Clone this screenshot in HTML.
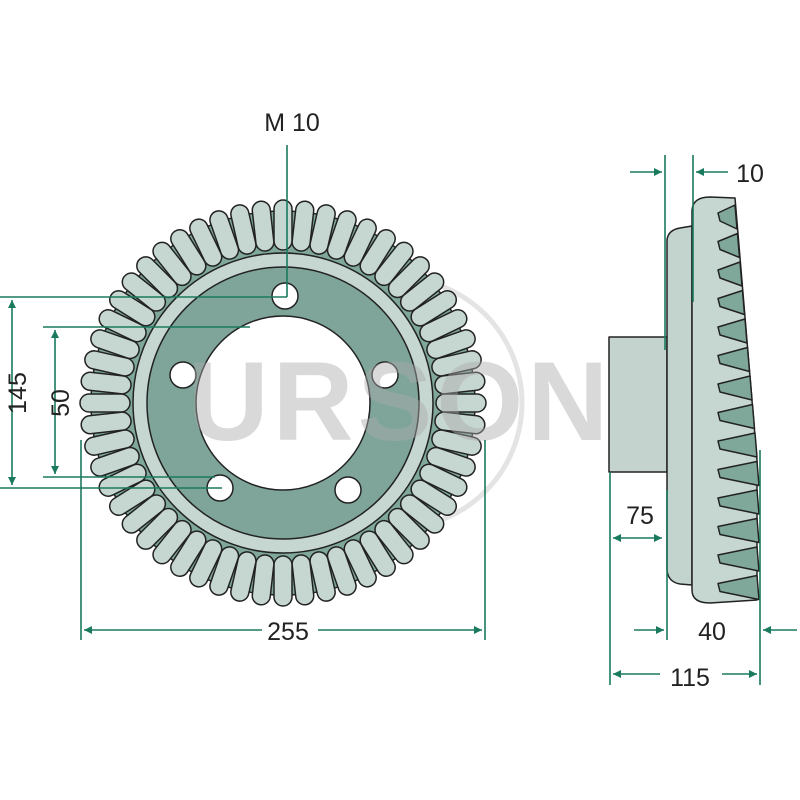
<!DOCTYPE html>
<html><head><meta charset="utf-8"><style>
html,body{margin:0;padding:0;background:#fff;width:800px;height:800px;overflow:hidden}
svg{display:block}
text{font-family:"Liberation Sans",sans-serif;fill:#222}
</style></head><body>
<svg id="s" width="800" height="800" viewBox="0 0 800 800" xmlns="http://www.w3.org/2000/svg">
<defs>
<marker id="a" viewBox="0 0 10 10" refX="10" refY="5" markerWidth="7" markerHeight="5" orient="auto-start-reverse"><path d="M0,0 L10,5 L0,10 z" fill="#1a7a5e"/></marker>
</defs>
<circle cx="397" cy="403" r="125" fill="none" stroke="#e4e4e4" stroke-width="5"/>
<g id="gear"></g>
<text x="400" y="440" font-size="112" font-weight="bold" text-anchor="middle" style="fill:#aaa;fill-opacity:0.45" letter-spacing="4">URSON</text>

<g stroke="#222" stroke-width="1.5" stroke-linejoin="round">
<rect x="609" y="337" width="58" height="135" fill="#c5d3cf"/>
<path d="M667,240 Q668,230 680,228 L692,226 L692,585 L680,584 Q668,582 667,570 Z" fill="#c3d3ce"/>
<path d="M692,210 Q693,197 710,197 L735,198 L757,460 L757,600 L710,603 Q692,603 692,590 Z" fill="#c6d6d1"/>
<path id="teeth" fill="#7fa89b" d=""/>
</g>

<g stroke="#1a7a5e" stroke-width="1.6" fill="none">
<line x1="287" y1="145" x2="287" y2="297"/>
<line x1="0" y1="297" x2="287" y2="297"/>
<line x1="0" y1="488" x2="222" y2="488"/>
<line x1="43" y1="327" x2="250" y2="327"/>
<line x1="43" y1="477" x2="215" y2="477"/>
<line x1="12" y1="300" x2="12" y2="485" marker-start="url(#a)" marker-end="url(#a)"/>
<line x1="55" y1="330" x2="55" y2="474" marker-start="url(#a)" marker-end="url(#a)"/>
<line x1="81" y1="440" x2="81" y2="640"/>
<line x1="485" y1="440" x2="485" y2="640"/>
<line x1="84" y1="630" x2="262" y2="630" marker-start="url(#a)"/>
<line x1="318" y1="630" x2="482" y2="630" marker-end="url(#a)"/>
<line x1="665" y1="155" x2="665" y2="350"/>
<line x1="693" y1="155" x2="693" y2="302"/>
<line x1="630" y1="172" x2="662" y2="172" marker-end="url(#a)"/>
<line x1="728" y1="172" x2="696" y2="172" marker-end="url(#a)"/>
<line x1="610" y1="472" x2="610" y2="685"/>
<line x1="667" y1="490" x2="667" y2="640"/>
<line x1="760" y1="450" x2="760" y2="685"/>
<line x1="613" y1="538" x2="662" y2="538" marker-start="url(#a)" marker-end="url(#a)"/>
<line x1="634" y1="630" x2="664" y2="630" marker-end="url(#a)"/>
<line x1="797" y1="630" x2="763" y2="630" marker-end="url(#a)"/>
<line x1="613" y1="674" x2="660" y2="674" marker-start="url(#a)"/>
<line x1="722" y1="674" x2="757" y2="674" marker-end="url(#a)"/>
</g>
<g font-size="25">
<text x="292" y="131" text-anchor="middle">M 10</text>
<text x="288" y="640" text-anchor="middle">255</text>
<text x="640" y="524" text-anchor="middle">75</text>
<text x="712" y="640" text-anchor="middle">40</text>
<text x="690" y="686" text-anchor="middle">115</text>
<text x="750" y="182" text-anchor="middle">10</text>
<text transform="translate(26,393) rotate(-90)" text-anchor="middle">145</text>
<text transform="translate(69,403) rotate(-90)" text-anchor="middle">50</text>
</g>
</svg>
<script>
(function(){
var ns="http://www.w3.org/2000/svg",g=document.getElementById("gear");
var cx=283,cy=403,N=56;
function el(t,a){var e=document.createElementNS(ns,t);for(var k in a)e.setAttribute(k,a[k]);g.appendChild(e);return e;}
el("circle",{cx:cx,cy:cy,r:192,fill:"#7fa89b",stroke:"#222","stroke-width":1.5});
for(var i=0;i<N;i++){
 var ang=i*360/N;
 el("rect",{x:cx-9,y:cy-203,width:18,height:50,rx:9,fill:"#c6d6d1",stroke:"#222","stroke-width":1.5,transform:"rotate("+ang+" "+cx+" "+cy+")"});
}
el("circle",{cx:cx,cy:cy,r:150,fill:"#c6d6d1",stroke:"#222","stroke-width":1.5});
el("circle",{cx:cx,cy:cy,r:136,fill:"#7fa59a",stroke:"#222","stroke-width":1.5});
el("circle",{cx:cx,cy:cy,r:87,fill:"#fff",stroke:"#222","stroke-width":1.5});
[[285,296],[183,375],[385,375],[220,488],[348,490]].forEach(function(p){el("circle",{cx:p[0],cy:p[1],r:13,fill:"#fff",stroke:"#222","stroke-width":1.5});});
var d="";
for(var k=0;k<14;k++){var y0=205+k*28.5;var xr=735+Math.min(22,k*2.5);d+="M"+xr+","+y0+" L718,"+(y0+8)+" L720,"+(y0+16)+" L"+(xr+2)+","+(y0+24)+" Z ";}
document.getElementById("teeth").setAttribute("d",d);
})();
</script>
</body></html>
